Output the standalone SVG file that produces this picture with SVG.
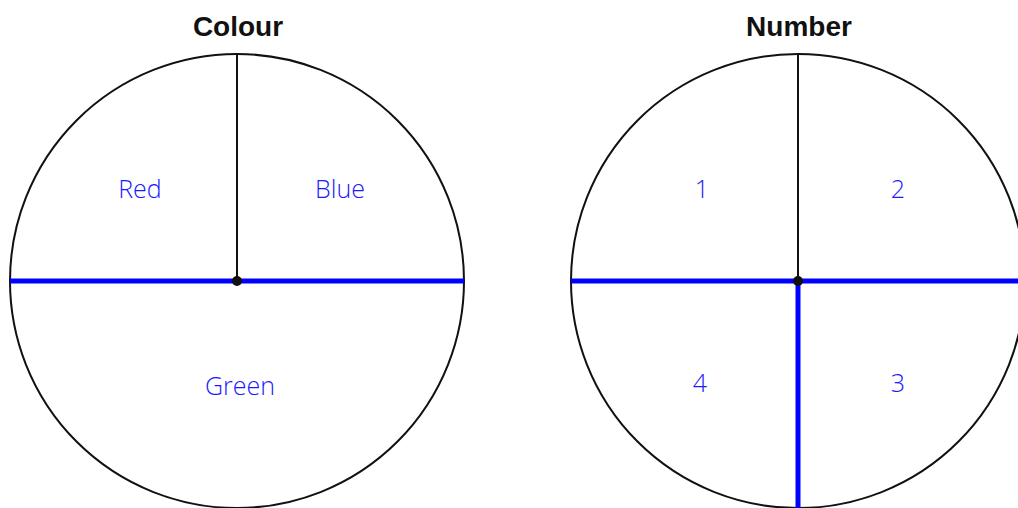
<svg xmlns="http://www.w3.org/2000/svg" width="1018" height="508" viewBox="0 0 1018 508">
<style>
.title{font-family:"Liberation Sans",Arial,sans-serif;font-weight:bold;font-size:28px;fill:#111;text-anchor:middle}
.lbl{font-family:"Open Sans","Noto Sans",sans-serif;font-weight:300;font-size:25px;fill:#1a1aff;text-anchor:middle}
.rim{fill:none;stroke:#111;stroke-width:2}
.thin{stroke:#111;stroke-width:2}
.blue{stroke:#0000ff;stroke-width:5}
</style>
<rect width="1018" height="508" fill="#fff"/>
<g id="spinner-colour">
<text class="title" x="238" y="36">Colour</text>
<circle class="rim" cx="237" cy="281" r="227"/>
</g>
<g id="spinner-number">
<text class="title" x="799" y="36">Number</text>
<circle class="rim" cx="798" cy="281" r="227"/>
</g>
<g id="connectors">
<line class="thin" x1="237" y1="54" x2="237" y2="281"/>
<line class="blue" x1="10" y1="281" x2="464" y2="281"/>
<circle cx="237" cy="281" r="5" fill="#111"/>
<line class="thin" x1="798" y1="54" x2="798" y2="281"/>
<line class="blue" x1="571" y1="281" x2="1018" y2="281"/>
<line class="blue" x1="798" y1="281" x2="798" y2="508"/>
<circle cx="798" cy="281" r="5" fill="#111"/>
</g>
<g id="labels">
<text class="lbl" x="140" y="198">Red</text>
<text class="lbl" x="340" y="198">Blue</text>
<text class="lbl" x="240" y="395">Green</text>
<text class="lbl" x="702" y="198">1</text>
<text class="lbl" x="898" y="198">2</text>
<text class="lbl" x="700" y="392">4</text>
<text class="lbl" x="898" y="392">3</text>
</g>
</svg>
